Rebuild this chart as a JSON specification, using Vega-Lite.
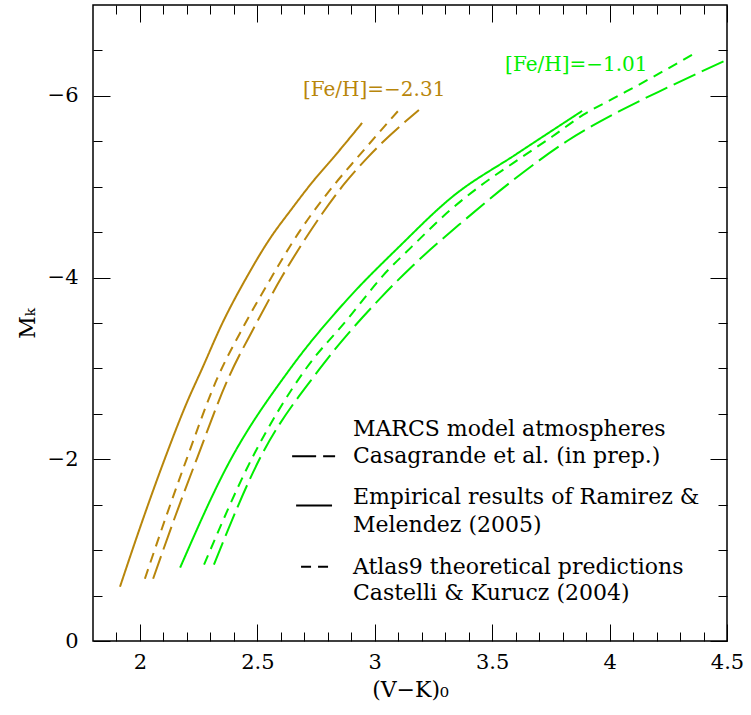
{
  "$schema": "https://vega.github.io/schema/vega-lite/v6.json",
  "width": 634,
  "height": 636,
  "autosize": "none",
  "padding": {"left": 93, "top": 5, "right": 24, "bottom": 74},
  "config": {
    "font": "DejaVu Serif",
    "view": {"stroke": "black", "strokeWidth": 1.5},
    "axis": {"grid": false, "domain": false, "tickColor": "black", "tickWidth": 1, "labelColor": "black", "titleColor": "black", "titleFontWeight": "normal", "labelFont": "DejaVu Serif", "titleFont": "DejaVu Serif"}
  },
  "datasets": {
    "curves": [
      {"metal": "−2.31", "method": "Ramirez", "x": 1.915, "y": -0.597},
      {"metal": "−2.31", "method": "Ramirez", "x": 2.0, "y": -1.246},
      {"metal": "−2.31", "method": "Ramirez", "x": 2.1, "y": -1.966},
      {"metal": "−2.31", "method": "Ramirez", "x": 2.2, "y": -2.626},
      {"metal": "−2.31", "method": "Ramirez", "x": 2.264, "y": -2.994},
      {"metal": "−2.31", "method": "Ramirez", "x": 2.35, "y": -3.493},
      {"metal": "−2.31", "method": "Ramirez", "x": 2.456, "y": -4.011},
      {"metal": "−2.31", "method": "Ramirez", "x": 2.55, "y": -4.415},
      {"metal": "−2.31", "method": "Ramirez", "x": 2.648, "y": -4.762},
      {"metal": "−2.31", "method": "Ramirez", "x": 2.735, "y": -5.053},
      {"metal": "−2.31", "method": "Ramirez", "x": 2.822, "y": -5.315},
      {"metal": "−2.31", "method": "Ramirez", "x": 2.946, "y": -5.702},
      {"metal": "−2.31", "method": "Atlas9", "x": 2.021, "y": -0.685},
      {"metal": "−2.31", "method": "Atlas9", "x": 2.110, "y": -1.36},
      {"metal": "−2.31", "method": "Atlas9", "x": 2.200, "y": -2.011},
      {"metal": "−2.31", "method": "Atlas9", "x": 2.328, "y": -2.884},
      {"metal": "−2.31", "method": "Atlas9", "x": 2.445, "y": -3.48},
      {"metal": "−2.31", "method": "Atlas9", "x": 2.562, "y": -4.011},
      {"metal": "−2.31", "method": "Atlas9", "x": 2.65, "y": -4.39},
      {"metal": "−2.31", "method": "Atlas9", "x": 2.737, "y": -4.72},
      {"metal": "−2.31", "method": "Atlas9", "x": 2.83, "y": -5.03},
      {"metal": "−2.31", "method": "Atlas9", "x": 2.924, "y": -5.315},
      {"metal": "−2.31", "method": "Atlas9", "x": 3.103, "y": -5.845},
      {"metal": "−2.31", "method": "MARCS", "x": 2.056, "y": -0.685},
      {"metal": "−2.31", "method": "MARCS", "x": 2.15, "y": -1.37},
      {"metal": "−2.31", "method": "MARCS", "x": 2.243, "y": -2.011},
      {"metal": "−2.31", "method": "MARCS", "x": 2.375, "y": -2.884},
      {"metal": "−2.31", "method": "MARCS", "x": 2.49, "y": -3.47},
      {"metal": "−2.31", "method": "MARCS", "x": 2.605, "y": -4.011},
      {"metal": "−2.31", "method": "MARCS", "x": 2.69, "y": -4.37},
      {"metal": "−2.31", "method": "MARCS", "x": 2.775, "y": -4.70},
      {"metal": "−2.31", "method": "MARCS", "x": 2.87, "y": -5.03},
      {"metal": "−2.31", "method": "MARCS", "x": 2.967, "y": -5.315},
      {"metal": "−2.31", "method": "MARCS", "x": 3.188, "y": -5.845},
      {"metal": "−1.01", "method": "Ramirez", "x": 2.171, "y": -0.807},
      {"metal": "−1.01", "method": "Ramirez", "x": 2.371, "y": -1.923},
      {"metal": "−1.01", "method": "Ramirez", "x": 2.639, "y": -2.994},
      {"metal": "−1.01", "method": "Ramirez", "x": 2.886, "y": -3.768},
      {"metal": "−1.01", "method": "Ramirez", "x": 3.1, "y": -4.33},
      {"metal": "−1.01", "method": "Ramirez", "x": 3.333, "y": -4.895},
      {"metal": "−1.01", "method": "Ramirez", "x": 3.6, "y": -5.354},
      {"metal": "−1.01", "method": "Ramirez", "x": 3.883, "y": -5.834},
      {"metal": "−1.01", "method": "Atlas9", "x": 2.273, "y": -0.840},
      {"metal": "−1.01", "method": "Atlas9", "x": 2.477, "y": -2.011},
      {"metal": "−1.01", "method": "Atlas9", "x": 2.706, "y": -2.994},
      {"metal": "−1.01", "method": "Atlas9", "x": 2.89, "y": -3.56},
      {"metal": "−1.01", "method": "Atlas9", "x": 3.035, "y": -4.022},
      {"metal": "−1.01", "method": "Atlas9", "x": 3.159, "y": -4.343},
      {"metal": "−1.01", "method": "Atlas9", "x": 3.320, "y": -4.740},
      {"metal": "−1.01", "method": "Atlas9", "x": 3.448, "y": -5.006},
      {"metal": "−1.01", "method": "Atlas9", "x": 3.589, "y": -5.260},
      {"metal": "−1.01", "method": "Atlas9", "x": 3.759, "y": -5.558},
      {"metal": "−1.01", "method": "Atlas9", "x": 3.887, "y": -5.790},
      {"metal": "−1.01", "method": "Atlas9", "x": 4.032, "y": -5.993},
      {"metal": "−1.01", "method": "Atlas9", "x": 4.172, "y": -6.19},
      {"metal": "−1.01", "method": "Atlas9", "x": 4.364, "y": -6.47},
      {"metal": "−1.01", "method": "MARCS", "x": 2.315, "y": -0.840},
      {"metal": "−1.01", "method": "MARCS", "x": 2.511, "y": -2.011},
      {"metal": "−1.01", "method": "MARCS", "x": 2.765, "y": -2.994},
      {"metal": "−1.01", "method": "MARCS", "x": 3.03, "y": -3.79},
      {"metal": "−1.01", "method": "MARCS", "x": 3.163, "y": -4.133},
      {"metal": "−1.01", "method": "MARCS", "x": 3.376, "y": -4.619},
      {"metal": "−1.01", "method": "MARCS", "x": 3.589, "y": -5.072},
      {"metal": "−1.01", "method": "MARCS", "x": 3.819, "y": -5.503},
      {"metal": "−1.01", "method": "MARCS", "x": 4.044, "y": -5.834},
      {"metal": "−1.01", "method": "MARCS", "x": 4.245, "y": -6.09},
      {"metal": "−1.01", "method": "MARCS", "x": 4.500, "y": -6.398}
    ],
    "legendLines": [
      {"method": "MARCS", "x": 2.648, "y": -2.033},
      {"method": "MARCS", "x": 2.831, "y": -2.033},
      {"method": "Ramirez", "x": 2.665, "y": -1.492},
      {"method": "Ramirez", "x": 2.818, "y": -1.492},
      {"method": "Atlas9", "x": 2.686, "y": -0.818},
      {"method": "Atlas9", "x": 2.809, "y": -0.818}
    ],
    "legendText": [
      {"text": "MARCS model atmospheres", "x": 2.907, "y": -2.331},
      {"text": "Casagrande et al. (in prep.)", "x": 2.907, "y": -2.033},
      {"text": "Empirical results of Ramirez &", "x": 2.907, "y": -1.580},
      {"text": "Melendez (2005)", "x": 2.907, "y": -1.282},
      {"text": "Atlas9 theoretical predictions", "x": 2.907, "y": -0.818},
      {"text": "Castelli & Kurucz (2004)", "x": 2.907, "y": -0.530}
    ],
    "labels": [
      {"text": "[Fe/H]=−2.31", "metal": "−2.31", "x": 2.694, "y": -6.066},
      {"text": "[Fe/H]=−1.01", "metal": "−1.01", "x": 3.555, "y": -6.343}
    ]
  },
  "layer": [
    {
      "data": {"name": "curves"},
      "transform": [{"filter": "datum.metal === '−2.31'"}],
      "mark": {"type": "line", "clip": true, "interpolate": "monotone"},
      "encoding": {
        "x": {"field": "x", "type": "quantitative", "scale": {"domain": [1.8, 4.5], "nice": false, "zero": false},
              "axis": {"orient": "bottom", "values": [2, 2.5, 3, 3.5, 4, 4.5], "format": "~g", "ticks": false, "labelFlush": false, "labelPadding": 10, "labelFontSize": 21, "title": "(V−K)₀", "titleFontSize": 22, "titlePadding": 7}},
        "y": {"field": "y", "type": "quantitative", "scale": {"domain": [-7, 0], "reverse": true, "nice": false, "zero": false},
              "axis": {"orient": "left", "values": [0, -2, -4, -6], "format": "~g", "ticks": false, "labelFlush": false, "labelPadding": 15, "labelFontSize": 21, "title": "Mₖ", "titleFontSize": 22, "titlePadding": 8}},
        "color": {"field": "metal", "type": "nominal", "scale": {"domain": ["−2.31", "−1.01"], "range": ["#b8860b", "#00ee00"]}, "legend": null},
        "strokeDash": {"field": "method", "type": "nominal", "scale": {"domain": ["Ramirez", "Atlas9", "MARCS"], "range": [[1, 0], [10, 7], [24, 7]]}, "legend": null},
        "strokeWidth": {"field": "method", "type": "nominal", "scale": {"domain": ["Ramirez", "Atlas9", "MARCS"], "range": [2, 2, 1.3]}, "legend": null}
      }
    },
    {
      "data": {"name": "curves"},
      "transform": [{"filter": "datum.metal === '−1.01'"}],
      "mark": {"type": "line", "clip": true, "interpolate": "monotone"},
      "encoding": {
        "x": {"field": "x", "type": "quantitative",
              "axis": {"orient": "bottom", "values": [2, 2.5, 3, 3.5, 4, 4.5], "labels": false, "tickSize": -17, "title": null}},
        "y": {"field": "y", "type": "quantitative",
              "axis": {"orient": "left", "values": [0, -2, -4, -6], "labels": false, "tickSize": -17, "title": null}},
        "color": {"field": "metal", "type": "nominal", "legend": null},
        "strokeDash": {"field": "method", "type": "nominal", "legend": null},
        "strokeWidth": {"field": "method", "type": "nominal", "legend": null}
      }
    },
    {
      "data": {"name": "legendLines"},
      "mark": {"type": "line", "color": "black"},
      "encoding": {
        "x": {"field": "x", "type": "quantitative",
              "axis": {"orient": "bottom", "values": [1.9, 2.1, 2.2, 2.3, 2.4, 2.6, 2.7, 2.8, 2.9, 3.1, 3.2, 3.3, 3.4, 3.6, 3.7, 3.8, 3.9, 4.1, 4.2, 4.3, 4.4], "labels": false, "tickSize": -9, "title": null}},
        "y": {"field": "y", "type": "quantitative",
              "axis": {"orient": "left", "values": [-0.5, -1, -1.5, -2.5, -3, -3.5, -4.5, -5, -5.5, -6.5], "labels": false, "tickSize": -9, "title": null}},
        "strokeDash": {"field": "method", "type": "nominal", "legend": null},
        "strokeWidth": {"field": "method", "type": "nominal", "legend": null}
      }
    },
    {
      "data": {"name": "legendText"},
      "mark": {"type": "text", "align": "left", "baseline": "middle", "fontSize": 22, "color": "black"},
      "encoding": {
        "x": {"field": "x", "type": "quantitative",
              "axis": {"orient": "top", "values": [2, 2.5, 3, 3.5, 4, 4.5], "labels": false, "tickSize": -17, "title": null}},
        "y": {"field": "y", "type": "quantitative",
              "axis": {"orient": "right", "values": [0, -2, -4, -6], "labels": false, "tickSize": -17, "title": null}},
        "text": {"field": "text", "type": "nominal"}
      }
    },
    {
      "data": {"name": "labels"},
      "mark": {"type": "text", "align": "left", "baseline": "middle", "fontSize": 20},
      "encoding": {
        "x": {"field": "x", "type": "quantitative",
              "axis": {"orient": "top", "values": [1.9, 2.1, 2.2, 2.3, 2.4, 2.6, 2.7, 2.8, 2.9, 3.1, 3.2, 3.3, 3.4, 3.6, 3.7, 3.8, 3.9, 4.1, 4.2, 4.3, 4.4], "labels": false, "tickSize": -9, "title": null}},
        "y": {"field": "y", "type": "quantitative",
              "axis": {"orient": "right", "values": [-0.5, -1, -1.5, -2.5, -3, -3.5, -4.5, -5, -5.5, -6.5], "labels": false, "tickSize": -9, "title": null}},
        "text": {"field": "text", "type": "nominal"},
        "color": {"field": "metal", "type": "nominal", "legend": null}
      }
    }
  ],
  "resolve": {"axis": {"x": "independent", "y": "independent"}}
}
